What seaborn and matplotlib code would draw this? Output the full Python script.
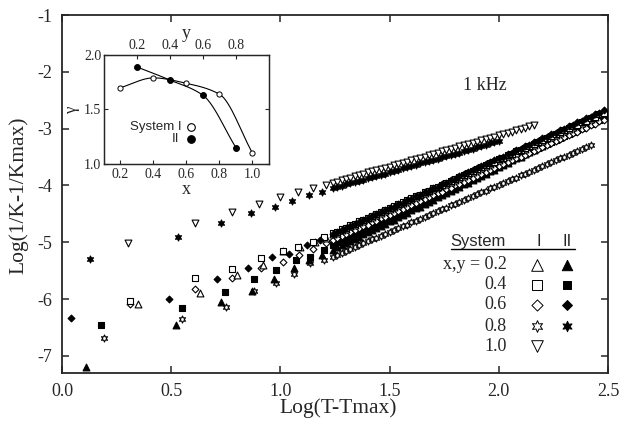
import numpy as np
import pandas as pd
import seaborn as sns
import matplotlib.pyplot as plt

# shared log(T-Tmax) grid for the dense high-temperature tails
DENSE_X = [1.24, 1.26, 1.28, 1.30, 1.32, 1.34, 1.36, 1.38, 1.40, 1.42, 1.44,
           1.46, 1.48, 1.50, 1.52, 1.54, 1.56, 1.58, 1.60, 1.62, 1.64, 1.66,
           1.68, 1.70, 1.72, 1.74, 1.76, 1.78, 1.80, 1.82, 1.84, 1.86, 1.88,
           1.90, 1.92, 1.94, 1.96, 1.98, 2.00, 2.02, 2.04, 2.06, 2.08, 2.10,
           2.12, 2.14, 2.16, 2.18, 2.20, 2.22, 2.24, 2.26, 2.28, 2.30, 2.32,
           2.34, 2.36, 2.38, 2.40, 2.42, 2.44, 2.46, 2.48]

# System I, x = 0.2 (open up-triangles)
I02_X = [0.35, 0.63, 0.80, 0.92, 1.01, 1.09, 1.16, 1.21]
I02_Y = [-6.09, -5.90, -5.57, -5.40, -5.15, -5.09, -5.00, -4.93]
I02_TAIL = [-4.86, -4.83, -4.79, -4.76, -4.72, -4.69, -4.65, -4.62, -4.58, -4.55,
            -4.52, -4.48, -4.45, -4.41, -4.38, -4.34, -4.31, -4.28, -4.24, -4.21,
            -4.17, -4.14, -4.10, -4.07, -4.03, -4.00, -3.97, -3.93, -3.90, -3.86,
            -3.83, -3.79, -3.76, -3.72, -3.69, -3.66, -3.62, -3.59, -3.55, -3.52,
            -3.48, -3.45, -3.42, -3.38, -3.35, -3.31, -3.28, -3.24, -3.21, -3.17,
            -3.14, -3.11, -3.07, -3.04, -3.00, -2.97, -2.93, -2.90, -2.86, -2.83,
            -2.80]

# System II, y = 0.2 (filled up-triangles)
II02_X = [0.11, 0.52, 0.73, 0.87, 0.97, 1.06, 1.13, 1.19]
II02_Y = [-7.19, -6.45, -6.05, -5.86, -5.65, -5.45, -5.31, -5.22]
II02_TAIL = [-5.13, -5.09, -5.05, -5.02, -4.98, -4.94, -4.90, -4.86, -4.82, -4.79,
             -4.75, -4.71, -4.67, -4.63, -4.60, -4.56, -4.52, -4.48, -4.44, -4.40,
             -4.37, -4.33, -4.29, -4.25, -4.21, -4.17, -4.14, -4.10, -4.06, -4.02,
             -3.98, -3.95, -3.91, -3.87, -3.83, -3.79, -3.75, -3.72, -3.68, -3.64,
             -3.60, -3.56, -3.52, -3.49, -3.45, -3.41, -3.37, -3.33, -3.30, -3.26,
             -3.22, -3.18, -3.14, -3.10, -3.07, -3.03, -2.99, -2.95, -2.91, -2.87,
             -2.84, -2.80, -2.76]

# System I, x = 0.4 (open squares)
I04_X = [0.31, 0.61, 0.78, 0.91, 1.01, 1.08, 1.15, 1.20]
I04_Y = [-6.03, -5.63, -5.47, -5.28, -5.15, -5.08, -4.99, -4.90]
I04_TAIL = [-4.84, -4.81, -4.77, -4.74, -4.70, -4.67, -4.63, -4.60, -4.57, -4.53,
            -4.50, -4.46, -4.43, -4.40, -4.36, -4.33, -4.29, -4.26, -4.22, -4.19,
            -4.16, -4.12, -4.09, -4.05, -4.02, -3.99, -3.95, -3.92, -3.88, -3.85,
            -3.81, -3.78, -3.75, -3.71, -3.68, -3.64, -3.61, -3.58, -3.54, -3.51,
            -3.47, -3.44, -3.40, -3.37, -3.34, -3.30, -3.27, -3.23, -3.20, -3.16,
            -3.13, -3.10, -3.06, -3.03, -2.99, -2.96, -2.93, -2.89, -2.86, -2.82,
            -2.79, -2.75, -2.72]

# System II, y = 0.4 (filled squares)
II04_X = [0.18, 0.55, 0.745, 0.88, 0.98, 1.07, 1.135, 1.20]
II04_Y = [-6.46, -6.15, -5.88, -5.65, -5.48, -5.31, -5.26, -5.14]
II04_TAIL = [-5.04, -5.00, -4.97, -4.93, -4.90, -4.86, -4.82, -4.79, -4.75, -4.71,
             -4.68, -4.64, -4.61, -4.57, -4.53, -4.50, -4.46, -4.43, -4.39, -4.35,
             -4.32, -4.28, -4.25, -4.21, -4.17, -4.14, -4.10, -4.06, -4.03, -3.99,
             -3.96, -3.92, -3.88, -3.85, -3.81, -3.78, -3.74, -3.70, -3.67, -3.63,
             -3.60, -3.56, -3.52, -3.49, -3.45, -3.41, -3.38, -3.34, -3.31, -3.27,
             -3.23, -3.20, -3.16, -3.13, -3.09, -3.05, -3.02, -2.98, -2.94, -2.91,
             -2.87, -2.84, -2.80]

# System I, x = 0.6 (open diamonds)
I06_X = [0.31, 0.61, 0.78, 0.91, 1.01, 1.085, 1.15, 1.21]
I06_Y = [-6.08, -5.82, -5.62, -5.45, -5.34, -5.23, -5.11, -5.02]
I06_TAIL = [-4.96, -4.93, -4.89, -4.86, -4.82, -4.79, -4.75, -4.72, -4.69, -4.65,
            -4.62, -4.58, -4.55, -4.52, -4.48, -4.45, -4.41, -4.38, -4.34, -4.31,
            -4.28, -4.24, -4.21, -4.17, -4.14, -4.11, -4.07, -4.04, -4.00, -3.97,
            -3.93, -3.90, -3.87, -3.83, -3.80, -3.76, -3.73, -3.70, -3.66, -3.63,
            -3.59, -3.56, -3.52, -3.49, -3.46, -3.42, -3.39, -3.35, -3.32, -3.28,
            -3.25, -3.22, -3.18, -3.15, -3.11, -3.08, -3.05, -3.01, -2.98, -2.94,
            -2.91, -2.87, -2.84]

# System II, y = 0.6 (filled diamonds)
II06_X = [0.04, 0.49, 0.71, 0.85, 0.96, 1.04, 1.12, 1.18]
II06_Y = [-6.34, -5.99, -5.65, -5.46, -5.25, -5.21, -5.04, -4.96]
II06_TAIL = [-4.86, -4.82, -4.79, -4.75, -4.72, -4.68, -4.65, -4.61, -4.58, -4.54,
             -4.51, -4.47, -4.44, -4.40, -4.37, -4.33, -4.30, -4.26, -4.23, -4.19,
             -4.16, -4.12, -4.09, -4.05, -4.02, -3.98, -3.95, -3.91, -3.88, -3.84,
             -3.80, -3.77, -3.73, -3.70, -3.66, -3.63, -3.59, -3.56, -3.52, -3.49,
             -3.45, -3.42, -3.38, -3.35, -3.31, -3.28, -3.24, -3.21, -3.17, -3.14,
             -3.10, -3.07, -3.03, -3.00, -2.96, -2.93, -2.89, -2.86, -2.82, -2.79,
             -2.75, -2.72, -2.68]

# System I, x = 0.8 (open stars)
I08_X = [0.19, 0.55, 0.75, 0.88, 0.98, 1.06, 1.135, 1.20]
I08_Y = [-6.69, -6.35, -6.14, -5.85, -5.72, -5.56, -5.37, -5.31]
I08_TAIL = [-5.25, -5.22, -5.18, -5.15, -5.12, -5.08, -5.05, -5.02, -4.98, -4.95,
            -4.92, -4.89, -4.85, -4.82, -4.79, -4.75, -4.72, -4.69, -4.65, -4.62,
            -4.59, -4.55, -4.52, -4.49, -4.45, -4.42, -4.39, -4.35, -4.32, -4.29,
            -4.25, -4.22, -4.19, -4.15, -4.12, -4.09, -4.05, -4.02, -3.99, -3.96,
            -3.92, -3.89, -3.86, -3.82, -3.79, -3.76, -3.72, -3.69, -3.66, -3.62,
            -3.59, -3.56, -3.52, -3.49, -3.46, -3.42, -3.39, -3.36, -3.32, -3.29]

# System II, y = 0.8 (filled stars)
II08_X = [0.13, 0.53, 0.73, 0.865, 0.975, 1.055, 1.13, 1.19]
II08_Y = [-5.30, -4.90, -4.66, -4.48, -4.37, -4.27, -4.17, -4.11]
II08_TAIL = [-4.05, -4.03, -4.01, -3.98, -3.96, -3.94, -3.92, -3.90, -3.87, -3.85,
             -3.83, -3.81, -3.79, -3.77, -3.74, -3.72, -3.70, -3.68, -3.66, -3.64,
             -3.61, -3.59, -3.57, -3.55, -3.53, -3.50, -3.48, -3.46, -3.44, -3.42,
             -3.40, -3.37, -3.35, -3.33, -3.31, -3.29, -3.26, -3.24, -3.22]

# System I, x = 1.0 (open down-triangles)
I10_X = [0.30, 0.61, 0.78, 0.90, 1.00, 1.08, 1.15, 1.21]
I10_Y = [-5.02, -4.66, -4.46, -4.33, -4.20, -4.12, -4.05, -3.99]
I10_TAIL = [-3.95, -3.93, -3.91, -3.88, -3.86, -3.84, -3.82, -3.80, -3.77, -3.75,
            -3.73, -3.71, -3.69, -3.67, -3.64, -3.62, -3.60, -3.58, -3.55, -3.53,
            -3.51, -3.49, -3.47, -3.45, -3.42, -3.40, -3.38, -3.36, -3.34, -3.31,
            -3.29, -3.27, -3.25, -3.23, -3.20, -3.18, -3.16, -3.14, -3.12, -3.09,
            -3.07, -3.05, -3.03, -3.01, -2.98, -2.96, -2.94]

# inset: gamma vs composition
GAM_I_X = [0.2, 0.4, 0.6, 0.8, 1.0]
GAM_I = [1.70, 1.79, 1.74, 1.64, 1.10]
GAM_II_Y = [0.2, 0.4, 0.6, 0.8]
GAM_II = [1.89, 1.77, 1.63, 1.15]

LEGEND_ROWS = ["x,y = 0.2", "0.4", "0.6", "0.8", "1.0"]

STAR = (6, 1, 0)
SERIES = [
    (I10_X, I10_Y, I10_TAIL, "v", False, 24),
    (II08_X, II08_Y, II08_TAIL, STAR, True, 26),
    (I08_X, I08_Y, I08_TAIL, STAR, False, 26),
    (II02_X, II02_Y, II02_TAIL, "^", True, 24),
    (II04_X, II04_Y, II04_TAIL, "s", True, 17),
    (I06_X, I06_Y, I06_TAIL, "D", False, 12),
    (I02_X, I02_Y, I02_TAIL, "^", False, 24),
    (I04_X, I04_Y, I04_TAIL, "s", False, 17),
    (II06_X, II06_Y, II06_TAIL, "D", True, 12),
]

sns.set_style("ticks")
plt.rcParams["font.family"] = ["Liberation Serif", "DejaVu Serif"]
plt.rcParams["axes.unicode_minus"] = False
SANS = ["Liberation Sans", "DejaVu Sans"]


def smooth(xs, ys, n=40):
    # monotone cubic (pchip) guide curve through the inset points
    x = np.asarray(xs, float)
    y = np.asarray(ys, float)
    h = np.diff(x)
    d = np.diff(y) / h
    m = np.zeros_like(y)
    m[0], m[-1] = d[0], d[-1]
    for k in range(1, len(x) - 1):
        if d[k - 1] * d[k] > 0:
            w1 = 2 * h[k] + h[k - 1]
            w2 = h[k] + 2 * h[k - 1]
            m[k] = (w1 + w2) / (w1 / d[k - 1] + w2 / d[k])
    t = np.linspace(0, 1, n)
    h00 = 2 * t ** 3 - 3 * t ** 2 + 1
    h10 = t ** 3 - 2 * t ** 2 + t
    h01 = -2 * t ** 3 + 3 * t ** 2
    h11 = t ** 3 - t ** 2
    xx, yy = [], []
    for k in range(len(x) - 1):
        xx.append(x[k] + t * h[k])
        yy.append(h00 * y[k] + h10 * h[k] * m[k] + h01 * y[k + 1]
                  + h11 * h[k] * m[k + 1])
    return np.concatenate(xx), np.concatenate(yy)


fig = plt.figure(figsize=(6.29, 4.23), dpi=100)
ax = fig.add_axes([0.0986, 0.1182, 0.868, 0.8463])

for xs, ys, tail, mk, filled, size in SERIES:
    df = pd.DataFrame({"x": xs + DENSE_X[:len(tail)], "y": ys + tail})
    sns.scatterplot(data=df, x="x", y="y", marker=mk, s=size,
                    color="black" if filled else "white", edgecolor="black",
                    linewidth=0.8, legend=False, ax=ax, zorder=3)

ax.set_xlim(0, 2.5)
ax.set_ylim(-7.3, -1)
ax.set_xticks([0.0, 0.5, 1.0, 1.5, 2.0, 2.5])
ax.set_xticklabels(["0.0", "0.5", "1.0", "1.5", "2.0", "2.5"])
ax.set_yticks([-7, -6, -5, -4, -3, -2, -1])
ax.tick_params(direction="in", top=True, right=True, length=5, width=1.1,
               labelsize=13, pad=7)
for sp in ax.spines.values():
    sp.set_linewidth(1.3)
ax.set_xlabel("")
ax.set_ylabel("")
fig.text(338 / 629, 1 - 408 / 423, "Log(T-Tmax)", fontsize=15.5,
         ha="center", va="center")
fig.text(19 / 629, 1 - 195 / 423, "Log(1/K-1/Kmax)", fontsize=15.5,
         ha="center", va="center", rotation=90)

ax.text(0.734, 0.804, "1 kHz", transform=ax.transAxes, fontsize=13,
        ha="left", va="center")

# legend table
ax.text(0.712, 0.366, "System", transform=ax.transAxes, family=SANS,
        fontsize=12, ha="left", va="center")
ax.text(0.874, 0.366, "I", transform=ax.transAxes, family=SANS,
        fontsize=12, ha="center", va="center")
ax.text(0.925, 0.366, "II", transform=ax.transAxes, family=SANS,
        fontsize=12, ha="center", va="center")
ax.plot([0.712, 0.940], [0.345, 0.345], transform=ax.transAxes,
        color="black", lw=1.0, clip_on=False)
row_y = [0.302, 0.246, 0.190, 0.131, 0.0754]
leg_mk = [("^", 70), ("s", 50), ("D", 32), (STAR, 70), ("v", 70)]
for i, lab in enumerate(LEGEND_ROWS):
    ax.text(0.815, row_y[i], lab, transform=ax.transAxes, fontsize=13,
            ha="right", va="center")
    mk, size = leg_mk[i]
    ax.scatter([0.870], [row_y[i]], marker=mk, s=size, facecolor="white",
               edgecolor="black", linewidth=0.7, transform=ax.transAxes,
               clip_on=False, zorder=4)
    if i < 4:
        ax.scatter([0.925], [row_y[i]], marker=mk, s=size * 0.8,
                   facecolor="black", edgecolor="black", linewidth=0.7,
                   transform=ax.transAxes, clip_on=False, zorder=4)

# inset
ins = fig.add_axes([0.1653, 0.6123, 0.2623, 0.2577])
ins.set_facecolor("white")
top = ins.twiny()
cx, cy = smooth(GAM_I_X, GAM_I)
sns.lineplot(x=cx, y=cy, sort=False, estimator=None, color="black", lw=0.8,
             ax=ins)
sns.scatterplot(x=GAM_I_X, y=GAM_I, marker="o", s=14, color="white",
                edgecolor="black", linewidth=0.7, ax=ins, zorder=4)
cx2, cy2 = smooth(GAM_II_Y, GAM_II)
sns.lineplot(x=cx2, y=cy2, sort=False, estimator=None, color="black", lw=0.8,
             ax=top)
sns.scatterplot(x=GAM_II_Y, y=GAM_II, marker="o", s=18, color="black",
                edgecolor="black", linewidth=0.7, ax=top, zorder=4)

ins.set_xlim(0.1, 1.1)
top.set_xlim(0.0, 1.0)
ins.set_ylim(1.0, 2.0)
ins.set_xticks([0.2, 0.4, 0.6, 0.8, 1.0])
ins.set_yticks([1.0, 1.5, 2.0])
top.set_xticks([0.2, 0.4, 0.6, 0.8])
ins.tick_params(direction="in", right=True, length=3, width=0.8,
                labelsize=10, pad=3)
ins.tick_params(axis="y", pad=2)
top.tick_params(direction="in", length=3, width=0.8, labelsize=10, pad=2)
for a in (ins, top):
    for sp in a.spines.values():
        sp.set_linewidth(0.9)
ins.set_xlabel("x", fontsize=13, labelpad=0)
top.set_xlabel("y", fontsize=13, labelpad=1)
ins.set_ylabel("γ", fontsize=12, labelpad=3)

ins.text(0.47, 0.339, "System I", transform=ins.transAxes, family=SANS,
         fontsize=9.5, ha="right", va="center")
ins.text(0.455, 0.225, "II", transform=ins.transAxes, family=SANS,
         fontsize=9.5, ha="right", va="center")
ins.scatter([0.525], [0.339], marker="o", s=30, facecolor="white",
            edgecolor="black", linewidth=0.8, transform=ins.transAxes, zorder=5)
ins.scatter([0.525], [0.225], marker="o", s=30, facecolor="black",
            edgecolor="black", linewidth=0.8, transform=ins.transAxes, zorder=5)

fig.savefig("out.png", dpi=100)
